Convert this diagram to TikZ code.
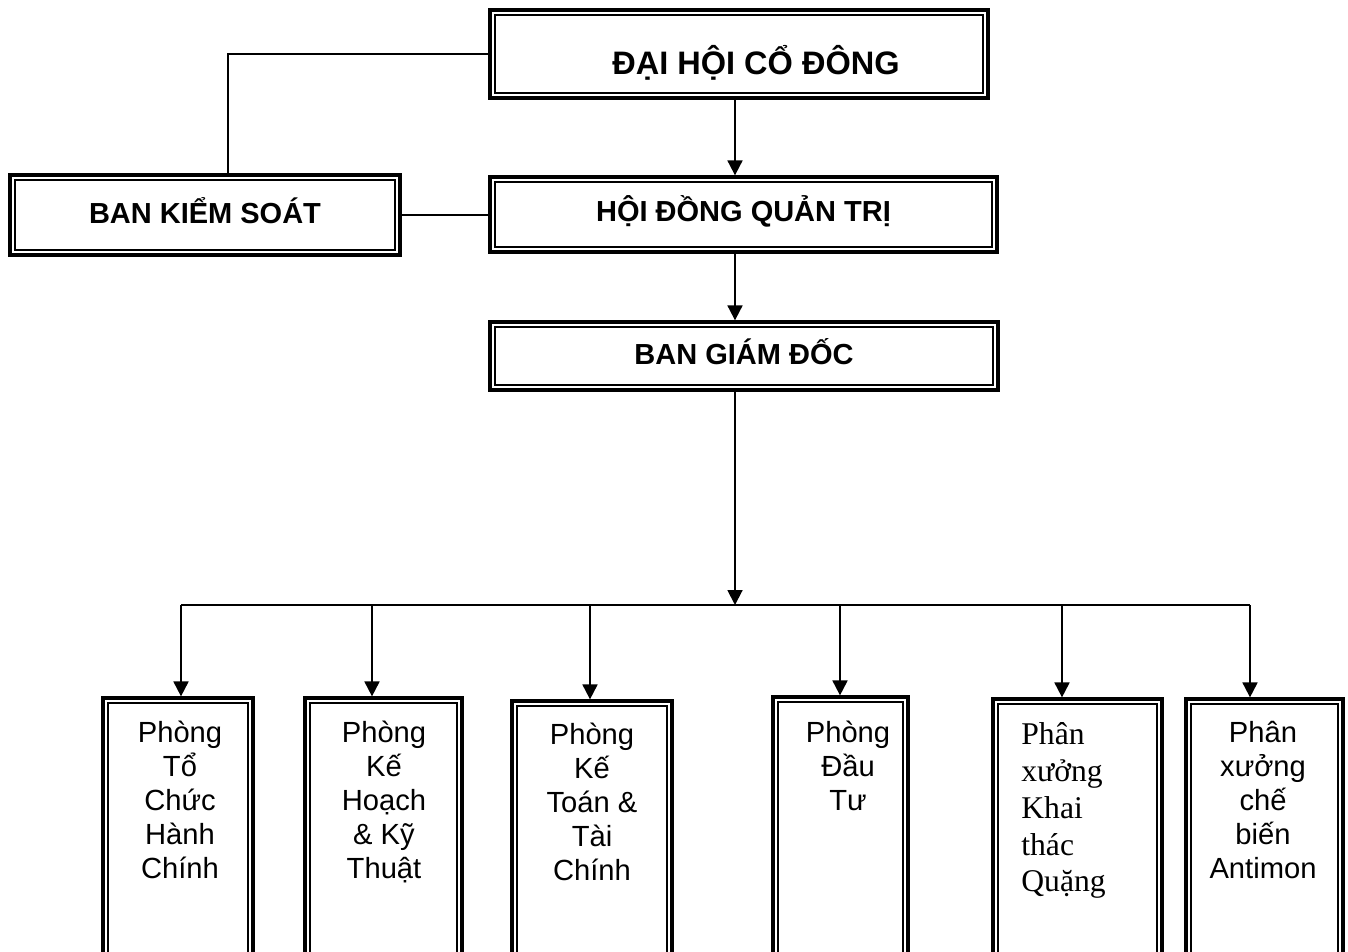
\documentclass[tikz,border=0pt]{standalone}
\usepackage{fontspec}
\setmainfont{Liberation Sans}
\newfontfamily\serifvn{Liberation Serif}
\usetikzlibrary{positioning,arrows.meta}

\begin{document}
\begin{tikzpicture}[
  x=0.02cm, y=-0.02cm,
  dbox/.style={draw, line width=1.9pt, inner sep=0pt,
    append after command={\pgfextra{\draw[line width=1.1pt]
      ([shift={(3.9pt,-3.9pt)}]\tikzlastnode.north west) rectangle
      ([shift={(-3.9pt,3.9pt)}]\tikzlastnode.south east);}}},
  headbox/.style={dbox, text height=8pt, text depth=0pt,
    font=\fontsize{16.5}{19}\selectfont\bfseries},
  deptbox/.style={dbox, minimum height=9cm},
  depttext/.style={anchor=north, inner sep=0pt, align=center,
    font=\fontsize{16.6}{19.3}\selectfont},
  link/.style={line width=1.1pt},
  >={Triangle[width=8.5pt,length=8.5pt]}
]
  \clip (0,0) rectangle (1348,951);

  % Top boxes
  \node[dbox, minimum width=9.96cm, minimum height=1.76cm,
        text height=23pt, text depth=0pt,
        font=\fontsize{18.5}{22}\selectfont\bfseries]
        (dhcd) at (739,54) {\hspace*{0.68cm}ĐẠI HỘI CỔ ĐÔNG};
  \node[headbox, text height=9.4pt, minimum width=7.8cm, minimum height=1.6cm] (bks) at (205,215) {BAN KIỂM SOÁT};
  \node[headbox, minimum width=10.14cm, minimum height=1.5cm] (hdqt) at (743.5,214.5) {HỘI ĐỒNG QUẢN TRỊ};
  \node[headbox, text height=9.8pt, minimum width=10.16cm, minimum height=1.36cm] (bgd) at (744,356) {BAN GIÁM ĐỐC};

  % Departments
  \node[deptbox, minimum width=3cm]    (p1) at (178,923)    {};
  \node[deptbox, minimum width=3.14cm] (p2) at (383.5,923)  {};
  \node[deptbox, minimum width=3.2cm]  (p3) at (592,926)    {};
  \node[deptbox, minimum width=2.7cm]  (p4) at (840.5,922)  {};
  \node[deptbox, minimum width=3.38cm] (p5) at (1077.5,924) {};
  \node[deptbox, minimum width=3.14cm] (p6) at (1264.5,924) {};

  \node[depttext] (t1) at (180,721) {Phòng\\Tổ\\Chức\\Hành\\Chính};
  \node[depttext] (t2) at (384,721) {Phòng\\Kế\\Hoạch\\\& Kỹ\\Thuật};
  \node[depttext] (t3) at (592,723) {Phòng\\Kế\\Toán \&\\Tài\\Chính};
  \node[depttext] (t4) at (848,721) {Phòng\\Đầu\\Tư};
  \node[depttext, anchor=north west, align=left,
        font=\fontsize{18}{21}\selectfont\serifvn]
        (t5) at (1021,722) {Phân\\xưởng\\Khai\\thác\\Quặng};
  \node[depttext] (t6) at (1263,721) {Phân\\xưởng\\chế\\biến\\Antimon};

  % Connectors
  \coordinate (spine) at (735,0);
  \coordinate (bus) at (735,605);
  \coordinate (d1) at (181,605);
  \coordinate (d2) at (372,605);
  \coordinate (d3) at (590,605);
  \coordinate (d4) at (840,605);
  \coordinate (d5) at (1062,605);
  \coordinate (d6) at (1250,605);

  \draw[link] (dhcd.west) -| ([xshift=0.46cm]bks.north);
  \draw[link] (bks.east) -- (bks.east -| hdqt.west);
  \draw[link,->] (dhcd.south -| spine) -- (hdqt.north -| spine);
  \draw[link,->] (hdqt.south -| spine) -- (bgd.north -| spine);
  \draw[link,->] (bgd.south -| spine) -- (bus);
  \draw[link] (d1) -- (d6);
  \foreach \i in {1,...,6}
    \draw[link,->] (d\i) -- (d\i |- p\i.north);
\end{tikzpicture}
\end{document}
